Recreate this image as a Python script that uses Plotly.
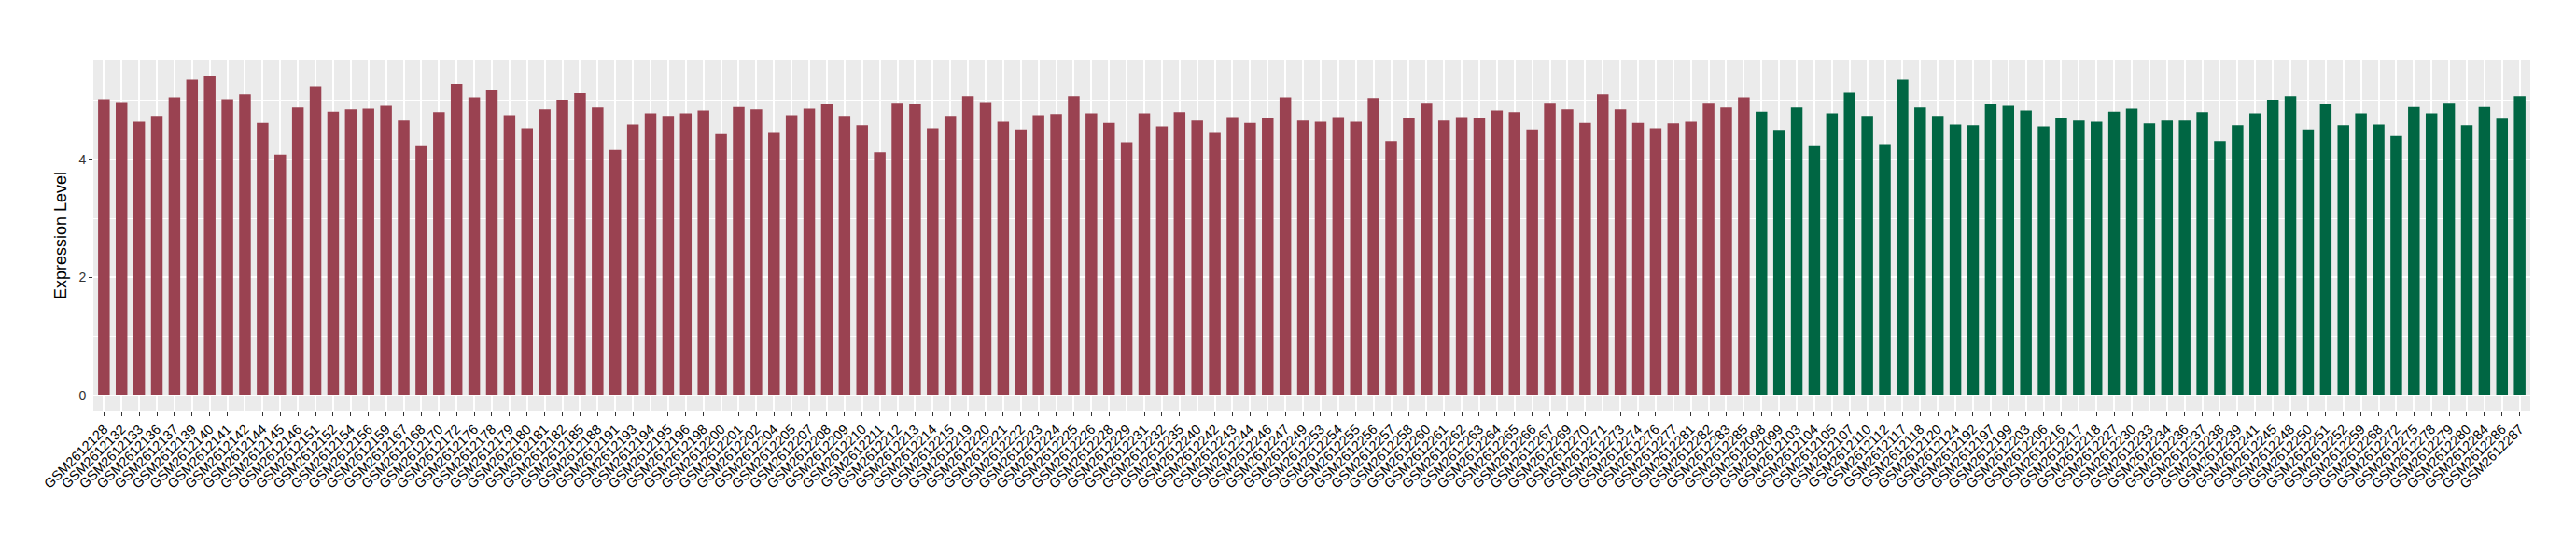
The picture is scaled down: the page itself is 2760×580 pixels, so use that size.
import plotly.graph_objects as go

# 2グループの試料名と発現量
red_samples = [
    "GSM2612128", "GSM2612132", "GSM2612133", "GSM2612136", "GSM2612137", "GSM2612139", "GSM2612140",
    "GSM2612141", "GSM2612142", "GSM2612144", "GSM2612145", "GSM2612146", "GSM2612151", "GSM2612152",
    "GSM2612154", "GSM2612156", "GSM2612159", "GSM2612167", "GSM2612168", "GSM2612170", "GSM2612172",
    "GSM2612176", "GSM2612178", "GSM2612179", "GSM2612180", "GSM2612181", "GSM2612182", "GSM2612185",
    "GSM2612188", "GSM2612191", "GSM2612193", "GSM2612194", "GSM2612195", "GSM2612196", "GSM2612198",
    "GSM2612200", "GSM2612201", "GSM2612202", "GSM2612204", "GSM2612205", "GSM2612207", "GSM2612208",
    "GSM2612209", "GSM2612210", "GSM2612211", "GSM2612212", "GSM2612213", "GSM2612214", "GSM2612215",
    "GSM2612219", "GSM2612220", "GSM2612221", "GSM2612222", "GSM2612223", "GSM2612224", "GSM2612225",
    "GSM2612226", "GSM2612228", "GSM2612229", "GSM2612231", "GSM2612232", "GSM2612235", "GSM2612240",
    "GSM2612242", "GSM2612243", "GSM2612244", "GSM2612246", "GSM2612247", "GSM2612249", "GSM2612253",
    "GSM2612254", "GSM2612255", "GSM2612256", "GSM2612257", "GSM2612258", "GSM2612260", "GSM2612261",
    "GSM2612262", "GSM2612263", "GSM2612264", "GSM2612265", "GSM2612266", "GSM2612267", "GSM2612269",
    "GSM2612270", "GSM2612271", "GSM2612273", "GSM2612274", "GSM2612276", "GSM2612277", "GSM2612281",
    "GSM2612282", "GSM2612283", "GSM2612285",
]
red_values = [
    5.02, 4.97, 4.64, 4.74, 5.05, 5.35, 5.42, 5.02, 5.10, 4.62,
    4.08, 4.88, 5.24, 4.81, 4.85, 4.86, 4.91, 4.66, 4.24, 4.80,
    5.28, 5.05, 5.18, 4.75, 4.53, 4.85, 5.01, 5.12, 4.88, 4.16,
    4.59, 4.78, 4.74, 4.78, 4.83, 4.43, 4.89, 4.85, 4.45, 4.75,
    4.86, 4.93, 4.74, 4.58, 4.12, 4.96, 4.94, 4.53, 4.74, 5.07,
    4.97, 4.64, 4.51, 4.75, 4.77, 5.07, 4.78, 4.62, 4.29, 4.78,
    4.56, 4.80, 4.66, 4.45, 4.72, 4.62, 4.70, 5.05, 4.66, 4.64,
    4.72, 4.64, 5.04, 4.31, 4.70, 4.96, 4.66, 4.72, 4.70, 4.83,
    4.80, 4.51, 4.96, 4.85, 4.62, 5.10, 4.85, 4.62, 4.53, 4.61,
    4.64, 4.96, 4.88, 5.05,
]

green_samples = [
    "GSM2612098", "GSM2612099", "GSM2612103", "GSM2612104", "GSM2612105", "GSM2612107", "GSM2612110",
    "GSM2612112", "GSM2612117", "GSM2612118", "GSM2612120", "GSM2612124", "GSM2612192", "GSM2612197",
    "GSM2612199", "GSM2612203", "GSM2612206", "GSM2612216", "GSM2612217", "GSM2612218", "GSM2612227",
    "GSM2612230", "GSM2612233", "GSM2612234", "GSM2612236", "GSM2612237", "GSM2612238", "GSM2612239",
    "GSM2612241", "GSM2612245", "GSM2612248", "GSM2612250", "GSM2612251", "GSM2612252", "GSM2612259",
    "GSM2612268", "GSM2612272", "GSM2612275", "GSM2612278", "GSM2612279", "GSM2612280", "GSM2612284",
    "GSM2612286", "GSM2612287",
]
green_values = [
    4.81, 4.50, 4.88, 4.24, 4.78, 5.13, 4.74, 4.26, 5.35, 4.88,
    4.74, 4.59, 4.58, 4.94, 4.91, 4.83,
    4.56, 4.70, 4.66, 4.64, 4.81, 4.86, 4.61, 4.66, 4.66, 4.80,
    4.31, 4.58, 4.78, 5.01, 5.07, 4.51, 4.93, 4.58, 4.78, 4.59,
    4.40, 4.89, 4.78, 4.96, 4.58, 4.89, 4.69, 5.07,
]

y_ticks = [0, 2, 4]
y_minor = [1, 3, 5]

all_samples = red_samples + green_samples
ymax = max(red_values + green_values)
pad = ymax * 0.05

FONT = "Liberation Sans, Arial, sans-serif"

fig = go.Figure()
fig.add_trace(go.Bar(x=red_samples, y=red_values, marker_color="#9A4251", marker_line_width=0, showlegend=False))
fig.add_trace(go.Bar(x=green_samples, y=green_values, marker_color="#006643", marker_line_width=0, showlegend=False))

fig.update_layout(
    width=2760,
    height=580,
    barmode="overlay",
    bargap=0.34,
    paper_bgcolor="white",
    plot_bgcolor="#EBEBEB",
    margin=dict(l=92, r=57, t=56, b=147),
    font=dict(family=FONT, color="black"),
)

fig.update_xaxes(
    type="category",
    categoryorder="array",
    categoryarray=all_samples,
    tickmode="array",
    tickvals=all_samples,
    ticktext=all_samples,
    range=[-0.6, len(all_samples) - 0.4],
    tickangle=-45,
    tickfont=dict(size=14.5, color="black"),
    ticks="outside",
    ticklen=4,
    tickcolor="#333333",
    tickwidth=1,
    showgrid=True,
    gridcolor="white",
    gridwidth=1.6,
    zeroline=False,
    showline=False,
    automargin=False,
)

fig.update_yaxes(
    range=[-pad, ymax + pad],
    tickmode="array",
    tickvals=y_ticks,
    tickfont=dict(size=14, color="#333333"),
    ticks="outside",
    ticklen=4,
    tickcolor="#333333",
    tickwidth=1,
    showgrid=True,
    gridcolor="white",
    gridwidth=1.6,
    minor=dict(tickvals=y_minor, showgrid=True, gridcolor="white", gridwidth=0.8, ticks=""),
    zeroline=False,
    showline=False,
    title=dict(text="Expression Level", font=dict(size=18, color="black"), standoff=8),
    automargin=False,
)

fig.write_html("out.html")
